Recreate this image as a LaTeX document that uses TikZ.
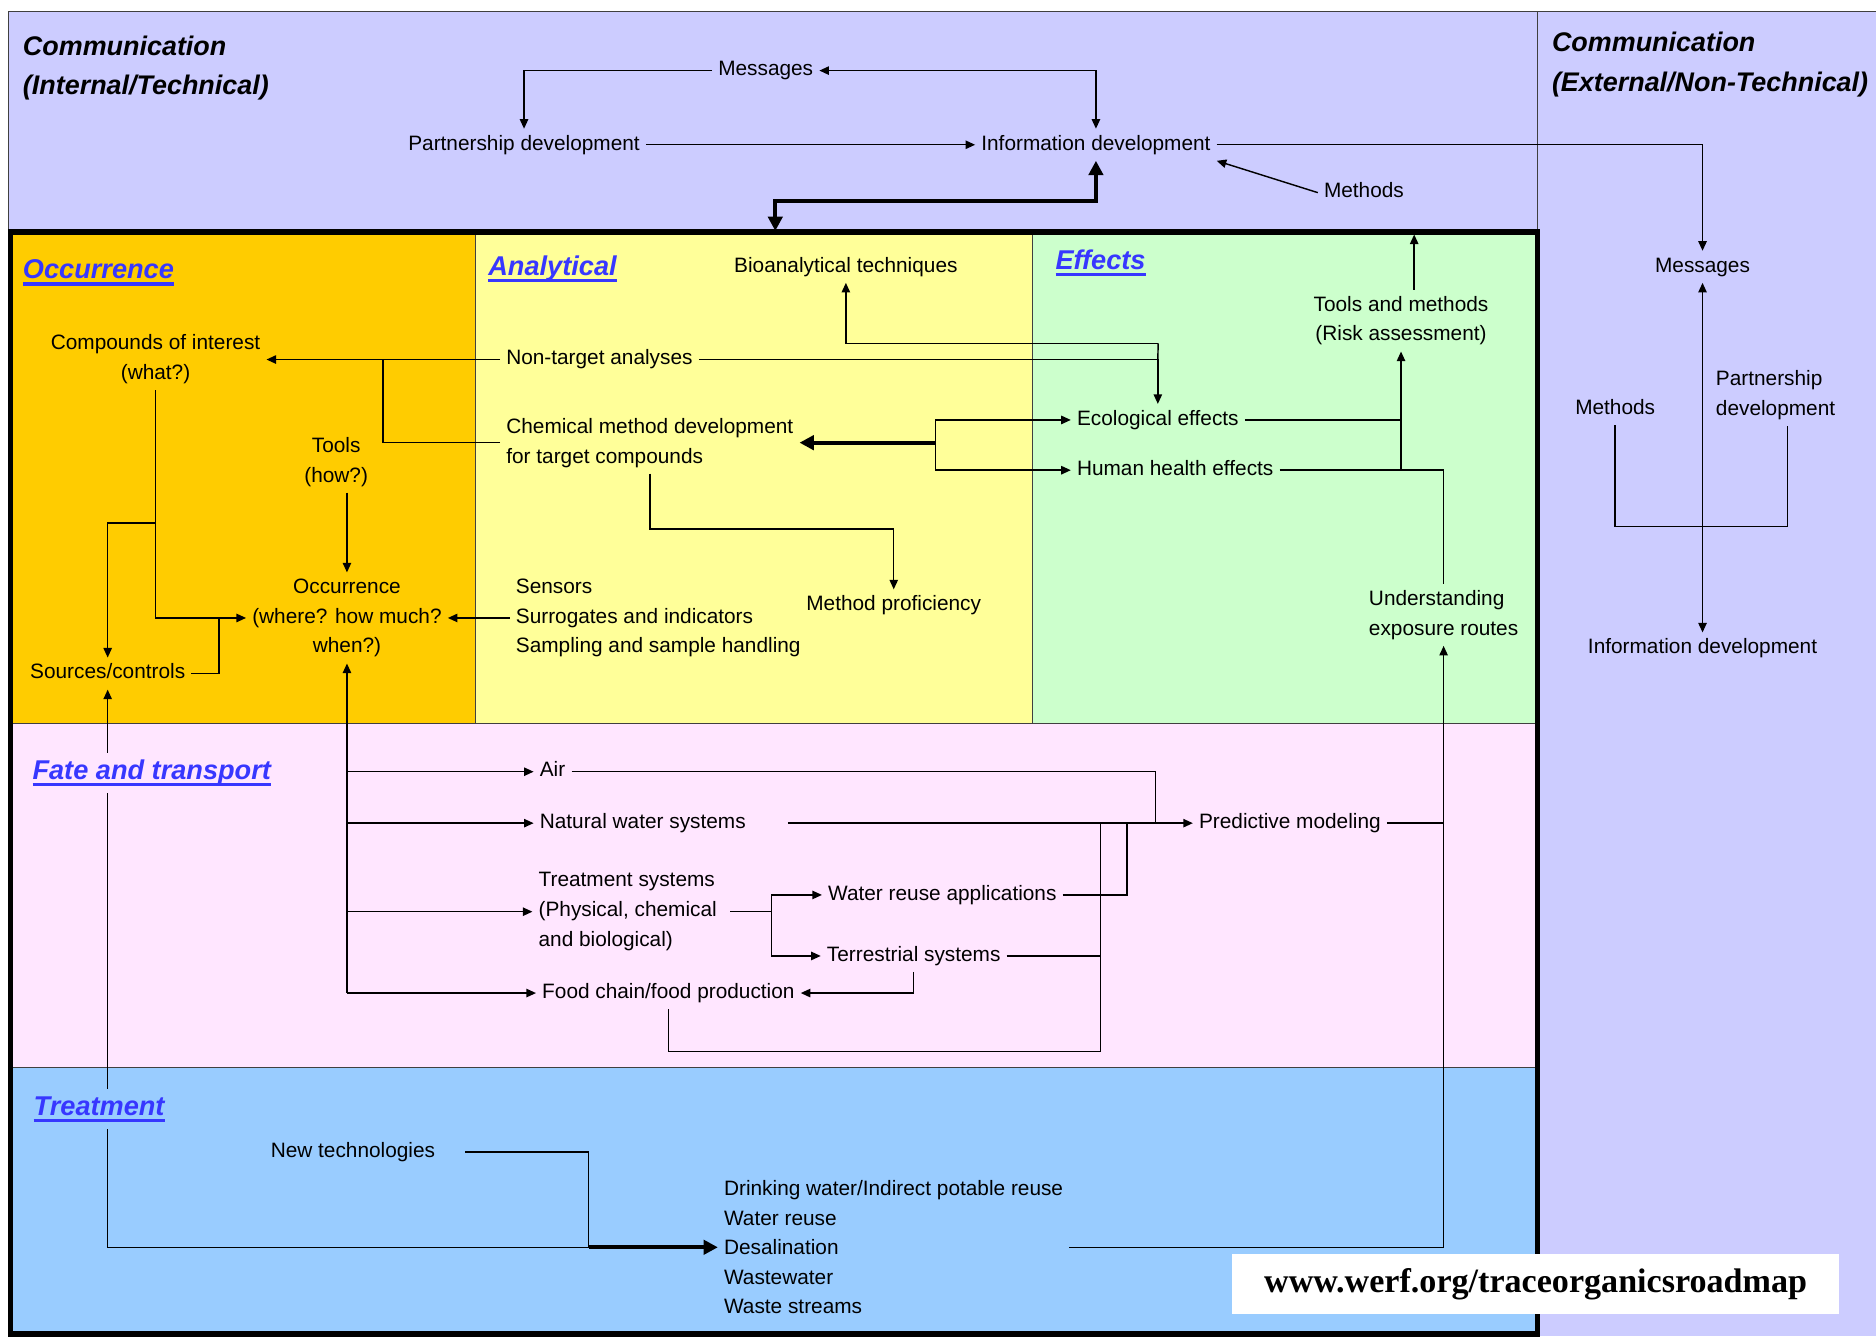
\documentclass[tikz,border=0pt]{standalone}
\usepackage{fontspec}
\setmainfont{Liberation Sans}
\newfontfamily\urlfont{Liberation Serif}
\usepackage{tikz}
\usetikzlibrary{arrows.meta}

\definecolor{lavender}{RGB}{204,204,255}
\definecolor{occfill}{RGB}{255,204,0}
\definecolor{anafill}{RGB}{255,255,153}
\definecolor{efffill}{RGB}{204,255,204}
\definecolor{fatefill}{RGB}{255,230,255}
\definecolor{trtfill}{RGB}{153,204,255}
\definecolor{titleblue}{RGB}{55,55,255}

\newcommand{\sectitle}[1]{\setbox0\hbox{#1}\rlap{\raisebox{-5.5pt}{\rule{\wd0}{2.6pt}}}\box0}

\begin{document}
\begin{tikzpicture}[
  x=1pt, y=-1pt,
  >={Triangle[length=8pt,width=7pt]},
  bigtip/.tip={Triangle[length=12pt,width=12pt]},
  txt/.style={font=\fontsize{17.4}{25}\selectfont, inner sep=5pt, text=black},
  ctr/.style={txt, align=center},
  lft/.style={txt, anchor=west, align=left},
  one/.style={text height=12.6pt, text depth=3.8pt},
  head/.style={anchor=west, align=left, inner sep=0pt,
    font=\fontsize{22.5}{33}\selectfont\bfseries\itshape},
  sec/.style={anchor=west, inner sep=6pt, text=titleblue,
    font=\fontsize{22.7}{27}\selectfont\bfseries\itshape},
  link/.style={line width=1.2pt, draw=black},
  bold/.style={line width=3.5pt, draw=black},
  panel/.style={line width=0.8pt, draw=black!75}
]

\useasboundingbox (0,0) rectangle (1568,1117);
\fill[lavender] (7,10) rectangle (1568,1117);
\draw[panel] (1568,10) -- (7,10) -- (7,1117);
\draw[panel] (1285,10) -- (1285,193);

\fill[occfill] (9,194) rectangle (397,605);
\fill[anafill] (397,194) rectangle (863,605);
\fill[efffill] (863,194) rectangle (1285,605);
\fill[fatefill] (9,605) rectangle (1285,892);
\fill[trtfill] (9,892) rectangle (1285,1115);
\draw[panel] (397,194) -- (397,605);
\draw[panel] (863,194) -- (863,605);
\draw[panel] (9,605) -- (1285,605);
\draw[panel] (9,892) -- (1285,892);
\draw[line width=4.5pt] (9,194) rectangle (1285,1115);

\node[head] (hdint) at (19,57) {Communication\\(Internal/Technical)};
\node[head] (hdext) at (1297,54) {Communication\\(External/Non-Technical)};

\node[ctr,one] (msg) at (640,59) {Messages};
\node[ctr,one] (pdev) at (438,121) {Partnership development};
\node[ctr,one] (idev) at (916,121) {Information development};
\node[ctr,one] (meth) at (1140,161) {Methods};

\node[ctr,one] (rmsg) at (1423,223) {Messages};
\node[ctr,one] (rmeth) at (1350,342) {Methods};
\node[lft] (rpdev) at (1429,330) {Partnership\\development};
\node[ctr,one] (ridev) at (1423,542) {Information development};

\node[ctr] (cmp) at (130,300.5) {Compounds of interest\\(what?)};
\node[ctr] (tools) at (281,386) {Tools\\(how?)};
\node[ctr] (occ) at (290,516.5) {Occurrence\\(where? how much?\\when?)};
\node[ctr,one] (src) at (90,563) {Sources/controls};

\node[ctr,one] (bio) at (707,223) {Bioanalytical techniques};
\node[ctr,one] (nta) at (501,300.5) {Non-target analyses};
\node[lft] (chem) at (418,370) {Chemical method development\\for target compounds};
\node[lft] (sens) at (426,516.5) {Sensors\\Surrogates and indicators\\Sampling and sample handling};
\node[ctr,one] (prof) at (747,506) {Method proficiency};

\node[ctr] (tam) at (1171,268) {Tools and methods\\(Risk assessment)};
\node[lft,one] (eco) at (895,351) {Ecological effects};
\node[lft,one] (hum) at (895,393) {Human health effects};
\node[lft] (und) at (1139,514) {Understanding\\exposure routes};

\node[lft,one] (air) at (446,645) {Air};
\node[lft,one] (nws) at (446,688) {Natural water systems};
\node[lft] (tsys) at (445,762) {Treatment systems\\(Physical, chemical\\and biological)};
\node[lft,one] (food) at (448,830) {Food chain/food production};
\node[lft,one] (wra) at (687,748) {Water reuse applications};
\node[lft,one] (ter) at (686,799) {Terrestrial systems};
\node[lft,one] (pred) at (997,688) {Predictive modeling};

\node[ctr,one] (newt) at (295,963) {New technologies};
\node[lft, font=\fontsize{17.4}{24.75}\selectfont] (trl) at (600,1042.5)
  {Drinking water/Indirect potable reuse\\Water reuse\\Desalination\\Wastewater\\Waste streams};

\coordinate (jbox) at (648,193);
\coordinate (jcom) at (648,168);
\coordinate (jbrk) at (1423,440);
\coordinate (jbrr) at (1494,440);
\coordinate (jcmp) at (320,300.5);
\coordinate (jsrc) at (130,437);
\coordinate (jocc) at (183,516.5);
\coordinate (jbio) at (968,287);
\coordinate (jeff) at (782,370);
\coordinate (jprof) at (545,442);
\coordinate (jtop) at (1182,196);
\coordinate (jair) at (966,688);
\coordinate (jwra) at (942,688);
\coordinate (jter) at (920,688);
\coordinate (jfood) at (920,879);
\coordinate (jtsys) at (645,762);
\coordinate (jnew) at (492,1042.5);

\draw[link,->] (msg.west) -| (pdev.north);
\draw[link,<->] (msg.east) -| (idev.north);
\draw[link,->] (pdev) -- (idev);
\draw[link,->] (meth.west) -- (idev.south east);
\draw[bold,bigtip-bigtip] (jbox) -- (jcom) -| (idev.south);
\draw[link,->] (idev.east) -| (rmsg.north);

\draw[link,<->] (rmsg.south) -- (ridev.north);
\draw[link] (rmeth.south) |- (jbrk) -- (jbrr) -- (jbrr |- rpdev.south);

\draw[link,->] (nta.west) -- (cmp.east);
\draw[link] (chem.west) -| (jcmp);
\draw[link,->] (cmp.south) |- (occ.west);
\draw[link,->] (jsrc) -| (src.north);
\draw[link] (src.east) -| (jocc);
\draw[link,->] (occ.north |- tools.south) -- (occ.north);
\draw[link,->] (sens.west) -- (occ.east);
\draw[link,->] (food.west -| occ.south) -- (occ.south);
\draw[link,->] (air.west -| occ.south) -- (air.west);
\draw[link,->] (nws.west -| occ.south) -- (nws.west);
\draw[link,->] (tsys.west -| occ.south) -- (tsys.west);
\draw[link,->] (food.west -| occ.south) -- (food.west);

\draw[link,->] (nta.east) -| (eco.north);
\draw[link,->] (jbio) -| (bio.south);
\draw[link] (jbio) -- (eco.north |- nta.east);
\draw[bold,-bigtip] (jeff) -- (chem.east |- jeff);
\draw[link,->] (jeff) |- (eco.west);
\draw[link,->] (jeff) |- (hum.west);
\draw[link,->] (chem.south) |- (jprof -| prof.north) -- (prof.north);

\draw[link,->] (tam.north -| jtop) -- (jtop);
\draw[link,->] (eco.east) -| (tam.south);
\draw[link] (hum.east) -| (und.north);
\draw[link] (tam.south |- eco.east) -- (tam.south |- hum.east);
\draw[link,->] (trl.east) -| (und.south);
\draw[link] (pred.east) -- (pred.east -| und.south);

\draw[link] (air.east) -| (jair);
\draw[link,->,shorten <=30pt] (nws.east) -- (pred.west);
\draw[link,shorten <=6pt] (tsys.east) -- (jtsys);
\draw[link,->] (jtsys) |- (wra.west);
\draw[link,->] (jtsys) |- (ter.west);
\draw[link] (wra.east) -| (jwra);
\draw[link] (ter.east) -| (jter);
\draw[link] (jter) -- (jfood) -| (food.south);
\draw[link,->] (ter.south) |- (food.east);

\draw[link,shorten <=20pt] (newt.east) -| (jnew);
\draw[bold,-bigtip] (jnew) -- (trl.west);
\draw[link,->] (jnew) -| (src.south);

\node[sec, fill=occfill] (tocc) at (13,228) {\sectitle{Occurrence}};
\node[sec, fill=anafill] (tana) at (402,225) {\sectitle{Analytical}};
\node[sec, fill=efffill] (teff) at (876,220) {\sectitle{Effects}};
\node[sec, fill=fatefill] (tfate) at (21,646) {\sectitle{Fate and transport}};
\node[sec, fill=trtfill] (ttrt) at (22,927) {\sectitle{Treatment}};

\node[fill=white, minimum width=507pt, minimum height=50pt, inner sep=0pt,
  font=\urlfont\bfseries\fontsize{28.5}{30}\selectfont] (url) at (1283.5,1073)
  {www.werf.org/traceorganicsroadmap};

\end{tikzpicture}
\end{document}
